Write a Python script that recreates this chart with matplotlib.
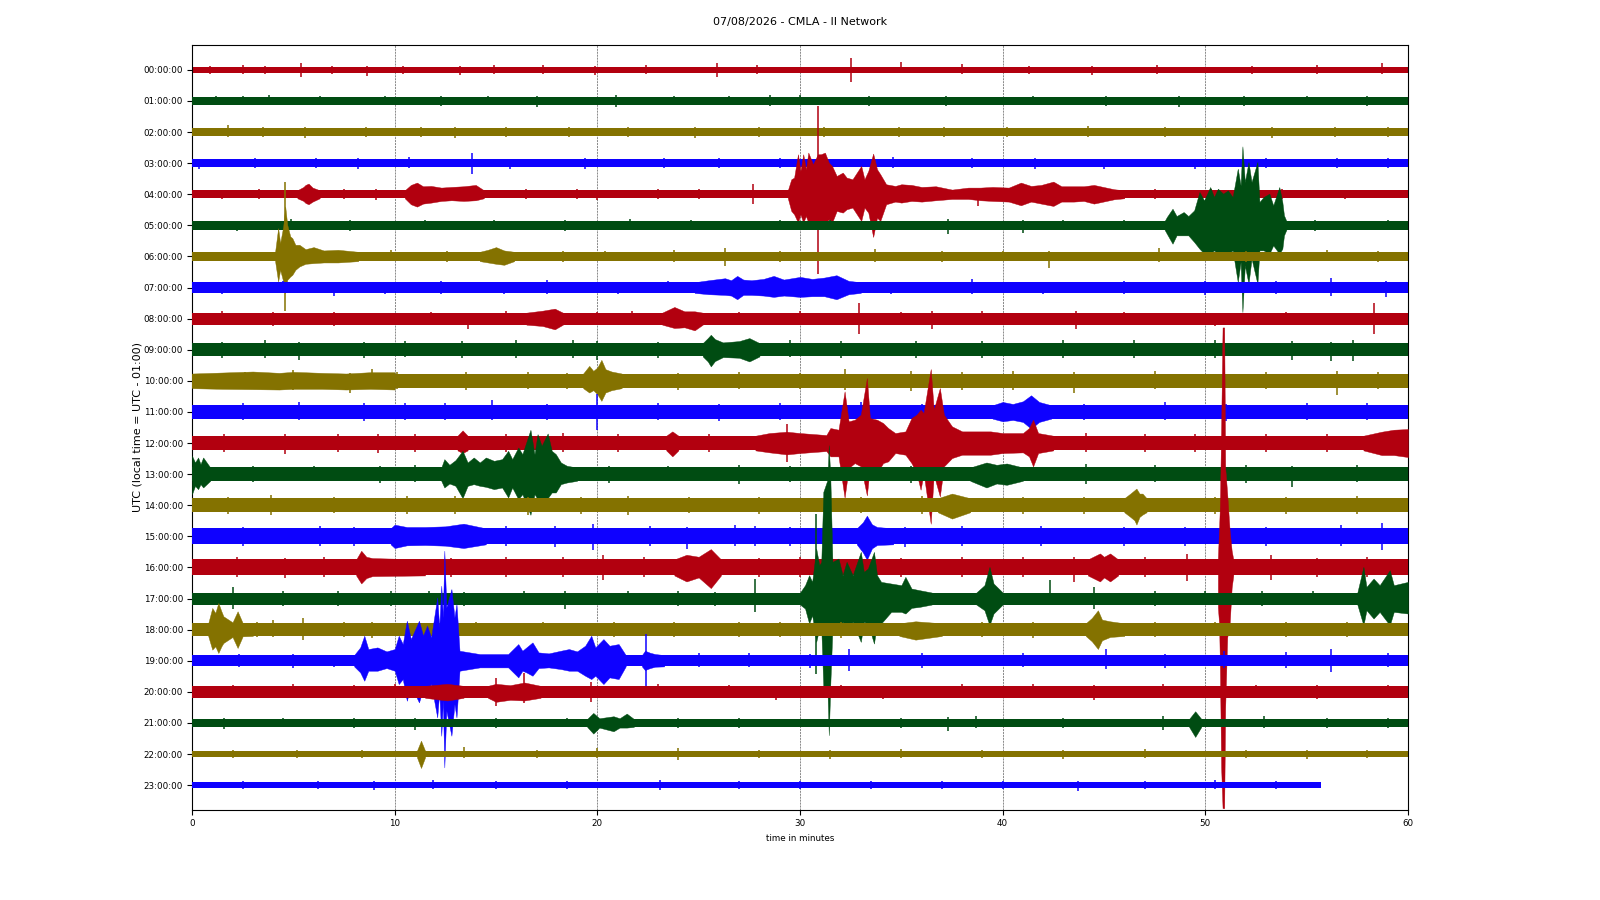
import matplotlib
matplotlib.use("Agg")
import matplotlib.pyplot as plt

hours = ["%02d:00:00" % h for h in range(24)]
colors = ['#B2000F', '#004C12', '#847200', '#0E01FF']
x_ticks = [0, 10, 20, 30, 40, 50, 60]
row_end = [60] * 23 + [55.7]
# half width of the quiet trace in each hour, in counts (93 counts = one row)
base = [10, 11, 12, 12, 12, 13, 14, 16, 18, 20, 22, 20, 22, 20, 21, 24, 24, 18, 19, 17, 18, 12, 10, 10]

# envelopes: (minute, counts up, counts down)
env_04 = [[(5.2, 12, 12), (5.5, 22, 20), (5.6, 28, 26), (5.75, 32, 30), (5.95, 20, 22), (6.3, 12, 12)],
          [(10.5, 12, 12), (10.8, 28, 30), (11.1, 35, 37), (11.4, 24, 28), (11.8, 25, 25), (12.3, 20, 20), (12.8, 22, 18), (13.4, 24, 20), (14.0, 28, 18), (14.4, 12, 12)],
          [(29.4, 12, 12), (29.57, 45, 50), (29.71, 50, 60), (29.9, 120, 85), (30.02, 70, 60), (30.16, 120, 85), (30.29, 75, 65), (30.41, 125, 85), (30.64, 90, 80),
           (30.88, 120, 100), (31.03, 120, 85), (31.23, 125, 88), (31.42, 95, 75), (31.58, 85, 85), (31.81, 55, 50), (32.11, 65, 55), (32.3, 50, 45), (32.59, 45, 40),
           (33.02, 85, 80), (33.18, 45, 40), (33.37, 70, 55), (33.61, 122, 128), (33.8, 75, 70), (33.96, 60, 80), (34.25, 30, 30), (34.7, 25, 22), (35, 30, 25),
           (35.5, 28, 20), (36, 22, 22), (36.7, 24, 18), (37.5, 14, 14), (38.3, 20, 14), (38.9, 20, 18), (39.5, 22, 20), (40.3, 20, 22), (40.9, 35, 33), (41.4, 25, 22),
           (41.9, 28, 28), (42.5, 38, 35), (42.9, 24, 22), (43.5, 24, 22), (44, 24, 20), (44.5, 28, 28), (45.5, 15, 15), (46, 12, 12)]]
env_05 = [[(47.99, 13, 13), (48.1, 25, 25), (48.38, 50, 55), (48.58, 28, 30), (48.93, 40, 30), (49.16, 28, 30), (49.45, 45, 50), (49.71, 100, 70), (49.94, 75, 85),
           (50.24, 115, 85), (50.43, 85, 75), (50.62, 110, 85), (50.88, 95, 80), (51.11, 105, 85), (51.35, 85, 75), (51.6, 170, 170), (51.74, 120, 110),
           (51.83, 237, 260), (51.95, 130, 120), (52.13, 190, 175), (52.28, 130, 100), (52.57, 190, 175), (52.67, 70, 75), (52.87, 85, 75), (53.16, 95, 85),
           (53.35, 60, 60), (53.65, 115, 85), (53.8, 70, 70), (53.88, 30, 30), (54.0, 13, 13)]]
env_06 = [[(4.1, 14, 14), (4.25, 85, 75), (4.35, 40, 40), (4.5, 90, 75), (4.6, 150, 110), (4.7, 95, 70), (4.85, 60, 60), (4.95, 55, 55), (5.1, 35, 40), (5.3, 35, 30),
           (5.6, 22, 22), (6, 28, 20), (6.5, 18, 18), (7.2, 20, 18), (8.2, 14, 14)],
          [(14.2, 14, 14), (14.6, 20, 18), (15, 28, 22), (15.4, 18, 25), (15.9, 14, 14)]]
env_07 = [[(24.8, 16, 16), (25.5, 22, 20), (26.3, 28, 22), (26.6, 22, 24), (26.9, 35, 35), (27.2, 24, 22), (27.6, 22, 22), (28.2, 26, 24), (28.7, 35, 28), (29.2, 24, 24),
           (30, 32, 28), (30.6, 26, 26), (31.2, 30, 26), (31.8, 37, 35), (32.4, 20, 20), (33, 16, 16)]]
env_08 = [[(16.5, 18, 18), (17.3, 24, 22), (17.9, 30, 32), (18.3, 18, 18)], [(23.2, 18, 18), (23.8, 35, 28), (24.3, 22, 26), (24.8, 22, 35), (25.2, 18, 18)]]
env_09 = [[(25.2, 20, 20), (25.45, 35, 35), (25.6, 45, 50), (25.8, 32, 34), (26.2, 22, 22), (27, 26, 24), (27.5, 35, 35), (28, 20, 20)]]
env_10 = [[(19.3, 22, 22), (19.6, 45, 35), (19.8, 30, 28), (20.0, 40, 40), (20.2, 63, 60), (20.4, 35, 35), (20.7, 28, 28), (21.2, 22, 22)],
          [(0, 22, 22), (1.5, 25, 24), (3, 28, 25), (4.3, 24, 26), (5, 27, 24), (6.4, 24, 24), (7.6, 22, 26), (8.8, 26, 24), (10, 26, 26)]]
env_11 = [[(39.5, 20, 20), (40, 30, 28), (40.5, 24, 24), (41, 32, 30), (41.4, 50, 50), (41.8, 30, 30), (42.4, 20, 20)]]
env_12 = [[(13.1, 22, 22), (13.35, 38, 30), (13.6, 22, 22)], [(23.4, 22, 22), (23.7, 35, 40), (24, 22, 22)],
          [(27.8, 22, 22), (28.5, 30, 28), (29.35, 34, 34), (30, 30, 30), (31.3, 24, 24), (31.5, 45, 40), (31.9, 40, 40), (32.2, 155, 164), (32.4, 65, 75), (32.7, 70, 60),
           (33.0, 85, 70), (33.3, 195, 157), (33.45, 75, 70), (33.8, 70, 90), (34.1, 60, 60), (34.35, 45, 55), (34.7, 30, 30), (35.2, 35, 35), (35.5, 75, 60), (35.75, 85, 90),
           (35.95, 100, 140), (36.1, 90, 90), (36.45, 222, 242), (36.6, 100, 95), (36.9, 165, 160), (37.1, 85, 70), (37.5, 50, 45), (38, 35, 35), (39.4, 35, 35), (40, 30, 30),
           (41, 30, 28), (41.3, 45, 40), (41.5, 70, 70), (41.75, 30, 30), (42.5, 22, 22)],
          [(57.8, 22, 22), (58.7, 34, 36), (59.3, 40, 36), (60, 42, 42)]]
env_13 = [[(0, 55, 60), (0.15, 35, 35), (0.3, 50, 45), (0.42, 30, 30), (0.55, 50, 40), (0.9, 20, 20)],
          [(12.3, 20, 20), (12.45, 45, 40), (12.7, 28, 28), (13.0, 42, 35), (13.35, 70, 72), (13.6, 35, 35), (13.9, 50, 30), (14.2, 35, 35), (14.5, 50, 38), (14.9, 40, 45),
           (15.3, 45, 40), (15.6, 70, 70), (15.8, 45, 40), (16.1, 80, 75), (16.3, 60, 60), (16.7, 133, 122), (16.9, 60, 60), (17.05, 120, 75), (17.25, 85, 70), (17.55, 122, 72),
           (17.75, 70, 55), (17.95, 60, 55), (18.2, 35, 30), (18.5, 25, 25), (19, 20, 20)],
          [(38.4, 20, 20), (39.2, 35, 40), (39.7, 28, 28), (40.2, 32, 32), (41, 20, 20)]]
env_14 = [[(46.0, 21, 21), (46.3, 35, 35), (46.5, 45, 45), (46.6, 50, 58), (46.75, 35, 35), (46.9, 35, 28), (47.1, 21, 21)], [(36.8, 21, 21), (37.5, 35, 40), (38.4, 21, 21)]]
env_15 = [[(9.8, 24, 24), (10, 35, 35), (10.6, 28, 27), (11.5, 28, 26), (12.5, 30, 28), (13.4, 38, 35), (14.5, 24, 24)],
          [(32.8, 24, 24), (33.1, 42, 48), (33.3, 62, 70), (33.55, 36, 36), (33.8, 28, 26), (34.6, 24, 24)]]
env_16 = [[(8.1, 24, 24), (8.35, 50, 48), (8.6, 32, 32), (8.9, 28, 26), (11.5, 24, 24)],
          [(23.8, 24, 24), (24.4, 38, 42), (25, 32, 30), (25.6, 55, 62), (26.1, 24, 24)],
          [(44.2, 24, 24), (44.8, 42, 42), (45, 32, 30), (45.3, 42, 42), (45.7, 24, 24)],
          [(50.62, 30, 120), (50.68, 120, 170), (50.72, 190, 300), (50.78, 420, 600), (50.85, 720, 722), (50.93, 720, 722), (50.98, 300, 420),
           (51.08, 220, 210), (51.2, 110, 170), (51.3, 50, 60), (51.38, 24, 24)]]
env_17 = [[(30, 18, 18), (30.25, 40, 30), (30.45, 70, 75), (30.6, 50, 50), (30.8, 150, 130), (30.95, 100, 90), (31.05, 110, 90), (31.15, 320, 265), (31.35, 355, 265),
           (31.42, 460, 410), (31.5, 355, 250), (31.6, 110, 90), (31.9, 120, 110), (32.1, 70, 70), (32.3, 110, 95), (32.6, 70, 70), (33, 140, 130), (33.15, 80, 70),
           (33.35, 90, 75), (33.65, 140, 135), (33.8, 70, 75), (34, 50, 75), (34.5, 45, 40), (35.0, 40, 40), (35.2, 65, 45), (35.5, 30, 28), (35.9, 25, 25), (36.5, 18, 18)],
          [(38.7, 18, 18), (39.1, 40, 35), (39.35, 95, 80), (39.55, 45, 45), (40, 18, 18)],
          [(57.5, 18, 18), (57.8, 95, 80), (57.95, 35, 35), (58.3, 60, 60), (58.6, 40, 40), (59.1, 85, 80), (59.3, 40, 40), (60, 50, 45)]]
env_18 = [[(0.8, 19, 19), (1, 65, 60), (1.15, 50, 50), (1.3, 80, 70), (1.45, 55, 50), (1.55, 40, 40), (2, 22, 22), (2.25, 55, 55), (2.5, 20, 20), (3, 19, 19)],
          [(44.1, 19, 19), (44.4, 35, 35), (44.7, 58, 58), (44.9, 30, 32), (45.3, 25, 22), (46, 19, 19)], [(34.9, 19, 19), (35.7, 25, 30), (37, 19, 19)]]
env_19 = [[(8, 17, 17), (8.3, 40, 35), (8.5, 75, 60), (8.7, 35, 30), (9.15, 40, 30), (9.6, 28, 22), (10, 35, 30), (10.2, 75, 70), (10.4, 50, 55), (10.6, 120, 120), (10.8, 65, 75),
           (11.2, 120, 125), (11.4, 75, 85), (11.6, 105, 90), (11.8, 70, 70), (12.1, 190, 170), (12.2, 100, 95), (12.3, 225, 225), (12.38, 130, 120), (12.45, 330, 320),
           (12.55, 160, 150), (12.8, 215, 225), (12.95, 130, 130), (13.05, 170, 170), (13.2, 30, 30), (14.2, 20, 20), (15.6, 20, 20), (16.1, 50, 50), (16.3, 30, 30), (16.5, 40, 35),
           (16.8, 55, 45), (17.1, 25, 22), (17.6, 22, 20), (18.2, 30, 25), (18.6, 35, 30), (19, 28, 30), (19.4, 45, 45), (19.7, 75, 55), (19.9, 40, 45), (20.3, 65, 70),
           (20.6, 45, 50), (21.05, 50, 55), (21.4, 17, 17)], [(22.2, 17, 17), (22.35, 30, 28), (22.6, 24, 22), (22.85, 20, 18), (23.3, 17, 17)]]
env_20 = [[(11.5, 18, 18), (12.6, 24, 26), (13.4, 18, 18)], [(14.6, 18, 18), (15, 24, 30), (15.7, 20, 24), (16.4, 28, 26), (17.2, 18, 18)]]
env_21 = [[(19.5, 12, 12), (19.8, 30, 32), (20.1, 14, 14), (20.8, 20, 25), (21.1, 14, 14), (21.45, 28, 14), (21.8, 12, 12)], [(49.2, 12, 12), (49.5, 35, 42), (49.8, 12, 12)]]
env_22 = [[(11.1, 10, 10), (11.3, 40, 42), (11.5, 10, 10)]]

# single short wiggles: (minute, counts up, counts down)
stk_00 = [(0.9, 12, 11), (2.5, 14, 11), (3.6, 13, 12), (5.4, 20, 20), (6.9, 12, 11), (8.65, 11, 18), (10.4, 13, 12), (13.2, 13, 14), (14.9, 14, 12), (17.3, 14, 13), (19.9, 12, 14), (22.4, 15, 12), (25.9, 20, 22), (27.9, 14, 12), (32.5, 35, 35), (35.0, 23, 10), (38, 18, 11), (41.3, 13, 12), (44.4, 13, 16), (47.6, 14, 12), (52.3, 13, 12), (55.5, 14, 12), (58.7, 20, 13)]
stk_01 = [(1.2, 14, 12), (2.5, 16, 13), (3.8, 17, 12), (6.3, 14, 13), (9.5, 14, 13), (12.3, 14, 14), (14.6, 15, 13), (17, 14, 17), (20.9, 17, 17), (23.8, 15, 13), (26.5, 14, 13), (28.5, 17, 14), (30, 18, 13), (33.4, 14, 15), (37.2, 14, 15), (41.5, 14, 13), (45.1, 15, 14), (48.7, 14, 17), (51.9, 16, 15), (55, 14, 13), (58, 15, 14)]
stk_02 = [(1.8, 20, 14), (3.5, 14, 15), (5.6, 14, 18), (8.6, 15, 14), (11.3, 15, 15), (13, 14, 18), (15.5, 16, 14), (18.6, 16, 14), (21.5, 15, 16), (24.8, 15, 17), (28, 14, 15), (31.2, 15, 15), (34.9, 14, 15), (37.1, 15, 14), (40.2, 14, 16), (44.2, 17, 15), (48, 15, 14), (53.3, 15, 18), (56.4, 15, 14), (59, 15, 14)]
stk_03 = [(0.35, 14, 18), (3.1, 15, 14), (6.1, 15, 15), (8.2, 15, 16), (10.7, 20, 15), (13.8, 30, 32), (15.7, 14, 16), (19.4, 15, 16), (23.3, 16, 14), (26, 15, 15), (29, 15, 15), (34.6, 18, 15), (38.5, 17, 15), (41.6, 15, 16), (45, 14, 17), (49.5, 14, 16), (53, 16, 15), (56.5, 15, 15), (59, 15, 15)]
stk_04 = [(1.5, 14, 15), (3.3, 15, 13), (7.5, 15, 15), (9.1, 15, 16), (16.5, 16, 14), (19, 15, 13), (20, 14, 16), (23, 15, 13), (25, 15, 15), (27.7, 32, 30), (30.9, 265, 240), (38.8, 14, 35), (47.5, 15, 15), (50.3, 15, 14), (53.8, 15, 14), (56.9, 14, 15)]
stk_05 = [(2.2, 14, 16), (4.9, 18, 15), (7.8, 15, 18), (11.5, 17, 14), (14.9, 16, 15), (18.4, 15, 17), (21.6, 18, 14), (24.6, 16, 15), (29, 15, 15), (31.5, 15, 15), (37.3, 18, 25), (41, 15, 22), (43, 15, 15), (46, 16, 15), (55.4, 16, 16), (59, 17, 15)]
stk_06 = [(4.6, 222, 165), (9.8, 18, 15), (12.6, 17, 16), (18.3, 16, 16), (20.4, 17, 15), (23.8, 18, 17), (26.3, 25, 30), (29, 17, 17), (33.7, 22, 16), (37, 16, 18), (40, 16, 15), (42.3, 15, 35), (47.7, 25, 16), (52, 16, 18), (56, 18, 15), (58.5, 16, 18)]
stk_07 = [(1.5, 18, 20), (4.5, 20, 17), (7, 17, 25), (9.5, 18, 18), (12.3, 20, 18), (15.4, 17, 20), (17.5, 22, 18), (21, 18, 18), (23.5, 20, 17), (34.5, 18, 20), (38.5, 25, 18), (42, 18, 20), (46, 20, 18), (50, 20, 22), (53.5, 20, 18), (56.2, 28, 25), (58.9, 20, 28)]
stk_08 = [(1.5, 24, 20), (4, 20, 22), (7, 20, 22), (9, 18, 20), (11.8, 21, 20), (13.6, 16, 30), (15.5, 22, 18), (20, 20, 20), (21.7, 22, 20), (27, 20, 20), (30, 22, 19), (32.9, 47, 45), (35, 20, 19), (36.5, 24, 30), (39, 22, 20), (43.6, 22, 32), (46, 20, 20), (50.5, 18, 21), (54, 20, 20), (58.3, 47, 47)]
stk_09 = [(1.5, 22, 24), (3.6, 28, 25), (5.3, 24, 30), (8.5, 22, 24), (10.5, 26, 22), (13.3, 26, 24), (16, 28, 25), (18.8, 28, 24), (20, 26, 30), (23, 24, 25), (29.5, 28, 22), (32, 26, 24), (35.7, 26, 25), (39, 26, 24), (43, 30, 26), (46.5, 28, 24), (50.5, 28, 24), (54.3, 26, 32), (56.2, 24, 35), (57.3, 28, 33)]
stk_10 = [(2.6, 28, 25), (5.0, 32, 28), (7.8, 25, 35), (8.9, 35, 24), (10.1, 26, 24), (13.5, 26, 26), (16.6, 26, 24), (18.5, 25, 25), (24, 25, 26), (27, 26, 24), (30, 25, 24), (32.2, 35, 26), (35.5, 30, 30), (38, 28, 28), (40.5, 30, 26), (43.5, 28, 35), (47.5, 30, 25), (53, 28, 25), (56.5, 30, 42), (58.5, 26, 24)]
stk_11 = [(2.5, 28, 24), (5.3, 30, 24), (8.5, 26, 26), (10.5, 28, 24), (12.5, 26, 25), (14.8, 35, 24), (17.5, 25, 25), (20, 55, 55), (23, 26, 24), (26, 24, 26), (29, 26, 24), (33, 30, 30), (36, 24, 26), (44, 25, 24), (48, 30, 24), (51, 24, 26), (55, 26, 24), (58, 26, 25)]
stk_12 = [(1.6, 26, 26), (4.6, 26, 33), (7.2, 28, 26), (9.2, 26, 30), (11, 28, 26), (15.5, 26, 26), (18.3, 30, 26), (21, 26, 28), (25.5, 28, 26), (29.35, 58, 58), (44.1, 30, 28), (47, 26, 26), (49.5, 28, 28), (53, 26, 28), (56, 28, 26)]
stk_13 = [(3, 24, 24), (6, 24, 22), (9.3, 24, 28), (11, 26, 24), (20.6, 24, 26), (23.5, 24, 22), (27, 26, 30), (29.5, 24, 24), (35.5, 24, 26), (44.1, 30, 30), (47.5, 26, 24), (52, 26, 26), (54.3, 24, 38), (57.5, 26, 24)]
stk_14 = [(1.8, 24, 26), (3.9, 30, 30), (7, 26, 24), (10.6, 28, 26), (13, 28, 26), (16.6, 24, 30), (19.2, 26, 26), (21.5, 28, 30), (24.5, 26, 24), (28, 24, 26), (33, 26, 24), (36, 28, 26), (41, 24, 26), (44, 26, 26), (50.5, 26, 26), (54, 26, 26), (57.5, 28, 25)]
stk_15 = [(2.5, 28, 28), (6.3, 30, 28), (8, 28, 30), (15.5, 30, 28), (17.9, 30, 33), (19.8, 38, 40), (22.6, 30, 28), (24.4, 28, 38), (26.8, 35, 30), (27.8, 32, 28), (29.5, 28, 28), (35.2, 28, 33), (38, 30, 28), (41.9, 30, 28), (46, 28, 28), (49, 28, 28), (53, 28, 28), (56.7, 35, 28), (58.7, 40, 42)]
stk_16 = [(2.2, 30, 30), (4.6, 28, 33), (6.5, 30, 28), (12.8, 28, 30), (15.5, 32, 28), (18.3, 30, 30), (20.3, 38, 38), (22.3, 30, 30), (28, 28, 28), (30, 30, 28), (35, 28, 30), (38, 30, 28), (41, 30, 30), (43.5, 30, 45), (47, 30, 28), (49.1, 40, 42), (53.25, 38, 38), (55.5, 28, 28), (58, 30, 28)]
stk_17 = [(2, 35, 30), (4.5, 22, 22), (7.2, 22, 22), (9.8, 22, 22), (11.7, 24, 20), (13.4, 20, 22), (16.4, 22, 20), (18.4, 24, 30), (21.5, 22, 20), (24, 22, 22), (25.8, 20, 22), (27.8, 60, 40), (30.8, 255, 225), (42.35, 55, 20), (44.5, 35, 30), (47.5, 22, 22), (50, 22, 20), (52.8, 24, 22), (55.3, 22, 20)]
stk_18 = [(3.2, 24, 22), (4, 28, 22), (5.5, 35, 30), (7.5, 22, 22), (8.9, 22, 24), (14, 24, 20), (17.3, 22, 20), (20.8, 24, 22), (23.8, 22, 22), (27, 22, 22), (29, 24, 22), (32, 24, 24), (39, 22, 22), (41.5, 22, 24), (47.5, 22, 22), (50.5, 22, 20), (54, 24, 22), (57, 24, 22)]
stk_19 = [(2.3, 20, 18), (5, 20, 22), (7, 18, 20), (22.4, 80, 78), (25, 22, 20), (27.5, 22, 20), (30.5, 20, 22), (32.4, 35, 32), (36, 22, 22), (41, 22, 20), (45.1, 35, 25), (48, 20, 22), (50.9, 30, 22), (54, 25, 22), (56.2, 35, 35), (59, 22, 20)]
stk_20 = [(2, 20, 18), (5, 22, 20), (8, 20, 18), (10, 22, 20), (15, 40, 42), (16.4, 55, 35), (19.7, 30, 30), (23, 22, 20), (26.5, 20, 20), (28.8, 18, 25), (32, 20, 20), (34.1, 18, 22), (38, 22, 20), (41.5, 22, 20), (44.5, 20, 24), (47.9, 22, 20), (52.5, 20, 20), (55.5, 20, 22), (59, 20, 20)]
stk_21 = [(1.6, 14, 18), (4.5, 15, 13), (8, 15, 14), (11, 14, 22), (15, 15, 14), (18.5, 16, 13), (24, 14, 15), (27, 15, 14), (35, 15, 14), (37.3, 18, 25), (38.7, 20, 14), (43, 14, 14), (47.9, 22, 22), (52.9, 20, 14), (56, 14, 14), (59, 14, 15)]
stk_22 = [(2, 12, 11), (5.2, 13, 12), (8.4, 12, 12), (13.4, 20, 11), (17, 12, 13), (20, 17, 12), (24, 18, 18), (28, 12, 12), (31.5, 13, 14), (35, 14, 12), (39, 12, 12), (43, 13, 14), (47, 14, 12), (52, 13, 13), (55, 13, 14), (58, 13, 12)]
stk_23 = [(2.5, 12, 12), (6.2, 13, 12), (9, 12, 14), (11.9, 15, 11), (15, 12, 13), (18.5, 13, 12), (23.1, 14, 15), (27, 13, 12), (30, 13, 12), (33.5, 12, 13), (37, 13, 13), (40, 12, 13), (43.7, 12, 17), (47, 13, 13), (50.5, 14, 13), (53.5, 13, 13)]

envelopes = {4: env_04, 5: env_05, 6: env_06, 7: env_07, 8: env_08, 9: env_09, 10: env_10, 11: env_11, 12: env_12, 13: env_13,
             14: env_14, 15: env_15, 16: env_16, 17: env_17, 18: env_18, 19: env_19, 20: env_20, 21: env_21, 22: env_22}
sticks = [stk_00, stk_01, stk_02, stk_03, stk_04, stk_05, stk_06, stk_07, stk_08, stk_09, stk_10, stk_11,
          stk_12, stk_13, stk_14, stk_15, stk_16, stk_17, stk_18, stk_19, stk_20, stk_21, stk_22, stk_23]
counts_per_row = 93.3

fig = plt.figure(figsize=(16, 9), dpi=100)
ax = fig.add_axes([0.12, 0.10, 0.76, 0.85])

for row in range(24):
    c = colors[row % 4]
    z = 2 + row
    b = base[row] / counts_per_row
    ax.fill_between([0, row_end[row]], row - b, row + b, color=c, lw=0, zorder=z)
    for poly in envelopes.get(row, []):
        ts = [p[0] for p in poly]
        up = [row - p[1] / counts_per_row for p in poly]
        dn = [row + p[2] / counts_per_row for p in poly]
        ax.fill_between(ts, up, dn, color=c, lw=0.3, zorder=z)
    ts = [s[0] for s in sticks[row]]
    up = [row - s[1] / counts_per_row for s in sticks[row]]
    dn = [row + s[2] / counts_per_row for s in sticks[row]]
    ax.vlines(ts, up, dn, color=c, lw=1.1, zorder=z)

ax.set_xlim(0, 60)
ax.set_ylim(23.8, -0.8)
ax.set_xticks(x_ticks)
ax.set_yticks(range(24))
ax.set_yticklabels(hours)
ax.tick_params(axis='both', labelsize=6.3, pad=3)
ax.xaxis.grid(True, color='black', ls='--', lw=0.4, alpha=0.8)
ax.set_axisbelow(True)
ax.set_xlabel("time in minutes", fontsize=6.3)
ax.set_ylabel("UTC (local time = UTC - 01:00)", fontsize=8, labelpad=1)
fig.suptitle("07/08/2026 - CMLA - II Network", y=0.975, fontsize=8, va='center')
fig.savefig("out.png", dpi=100)
